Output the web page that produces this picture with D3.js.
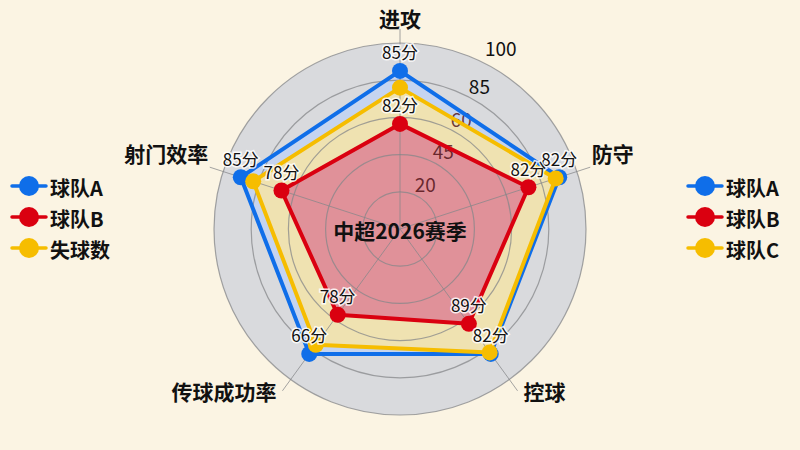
<!DOCTYPE html>
<html><head><meta charset="utf-8">
<script src="https://cdn.jsdelivr.net/npm/d3@7"></script>
<style>
html,body{margin:0;padding:0;background:#fbf4e3;}
svg{display:block;font-family:"Noto Sans CJK SC","Noto Sans",sans-serif;}
</style></head>
<body><svg id="c" width="800" height="450"></svg>
<script>
const axes = ["进攻","防守","控球","传球成功率","射门效率"];
const legendLeftNames = ["球队A","球队B","失球数"];
const legendRightNames = ["球队A","球队B","球队C"];
const teamA = [85, 90, 83, 83, 90];
const teamB = [56.5, 72.6, 63, 57, 67];
const teamC = [76, 88, 82, 77, 83];
const labelsA = ["85分","82分","82分","66分","85分"];
const labelsB = ["82分","82分","89分","78分","78分"];
const ringValues = [20, 40, 60, 80, 100];
const ringLabels = ["20","45","60","85","100"];
const title = "中超2026赛季";

const colors = {A:"#0f6ee9", B:"#da0010", C:"#f6bd00"};
const svg = d3.select("#c");
const cx = 400, cy = 229, R = 186;
const r = d3.scaleLinear().domain([0,100]).range([0,R]);
const ang = d3.scaleLinear().domain([0, axes.length]).range([-Math.PI/2, 1.5*Math.PI]);
const pt = (i,v) => [cx + Math.cos(ang(i))*r(v), cy + Math.sin(ang(i))*r(v)];

const g = svg.append("g");
g.append("circle").attr("cx",cx).attr("cy",cy).attr("r",R).attr("fill","#d9dadd");

const line = d3.line().curve(d3.curveLinearClosed);
const series = [
  {vals:teamA, color:colors.A, fill:"#bcd1f7", labels:labelsA},
  {vals:teamC, color:colors.C, fill:"#ffe798", labels:null},
  {vals:teamB, color:colors.B, fill:"#d97290", labels:labelsB}
];
// fills
series.forEach(s=>{
  const pts = s.vals.map((v,i)=>pt(i,v));
  g.append("path").attr("d",line(pts)).attr("fill",s.fill).attr("fill-opacity",0.72);
});
// grid over fills
function grid(op){
  ringValues.forEach(v=>{
    g.append("circle").attr("cx",cx).attr("cy",cy).attr("r",r(v))
     .attr("fill","none").attr("stroke","#86878a").attr("stroke-width",1.2).attr("stroke-opacity",op);
  });
  axes.forEach((a,i)=>{
    const [x,y] = [cx+Math.cos(ang(i))*(R+14), cy+Math.sin(ang(i))*(R+14)];
    g.append("line").attr("x1",cx).attr("y1",cy).attr("x2",x).attr("y2",y)
     .attr("stroke","#86878a").attr("stroke-width",1).attr("stroke-opacity",op);
  });
}
grid(0.75);
const lblAng = -Math.PI/2 + 29*Math.PI/180;
ringValues.forEach((v,k)=>{
  const rr = r(v) + (v===100 ? 22 : 15);
  g.append("text").attr("x",cx+Math.cos(lblAng)*rr).attr("y",cy+Math.sin(lblAng)*rr)
   .attr("text-anchor","middle").attr("dominant-baseline","central")
   .attr("font-size",19).attr("fill", v>=80 ? "#111" : "#4a0a10")
   .attr("fill-opacity", v>=80 ? 1 : 0.8).text(ringLabels[k]);
});
// lines
series.forEach(s=>{
  const pts = s.vals.map((v,i)=>pt(i,v));
  g.append("path").attr("d",line(pts)).attr("fill","none")
   .attr("stroke",s.color).attr("stroke-width",4).attr("stroke-linejoin","round");
});
series.forEach(s=>{
  s.vals.forEach((v,i)=>{
    const [x,y]=pt(i,v);
    g.append("circle").attr("cx",x).attr("cy",y).attr("r",8).attr("fill",s.color);
  });
});
series.forEach(s=>{
  if(!s.labels) return;
  s.vals.forEach((v,i)=>{
    const [x,y]=pt(i,v);
    g.append("text").attr("x",x).attr("y",y-19).attr("text-anchor","middle")
     .attr("dominant-baseline","central").attr("font-size",17).attr("fill","#111")
     .attr("stroke","rgba(255,255,255,0.85)").attr("stroke-width",3).attr("paint-order","stroke")
     .text(s.labels[i]);
  });
});
g.append("text").attr("x",cx).attr("y",cy+1).attr("text-anchor","middle")
 .attr("dominant-baseline","central").attr("font-size",21).attr("font-weight","bold")
 .attr("fill","#111").text(title);
axes.forEach((a,i)=>{
  const c = Math.cos(ang(i)), s = Math.sin(ang(i));
  let x, y, anchor;
  if (Math.abs(c) < 0.1) { x = cx; y = cy - R - 25; anchor = "middle"; }
  else {
    x = cx + c*(R+2) + (c>0 ? 13 : -13);
    y = cy + s*(R+26) - 10;
    anchor = c>0 ? "start" : "end";
  }
  g.append("text").attr("x",x).attr("y",y).attr("text-anchor",anchor)
   .attr("dominant-baseline","central").attr("font-size",21).attr("font-weight","bold")
   .attr("fill","#111").text(a);
});
function legend(x0, names){
  names.forEach((n,k)=>{
    const y = 186 + k*31;
    const col = [colors.A, colors.B, colors.C][k];
    svg.append("line").attr("x1",x0).attr("x2",x0+34).attr("y1",y).attr("y2",y)
      .attr("stroke",col).attr("stroke-width",3.5).attr("stroke-linecap","round");
    svg.append("circle").attr("cx",x0+17).attr("cy",y).attr("r",10).attr("fill",col);
    svg.append("text").attr("x",x0+38).attr("y",y+1).attr("dominant-baseline","central")
      .attr("font-size",20).attr("font-weight","bold").attr("fill","#111").text(n);
  });
}
legend(12, legendLeftNames);
legend(688, legendRightNames);
</script></body></html>
